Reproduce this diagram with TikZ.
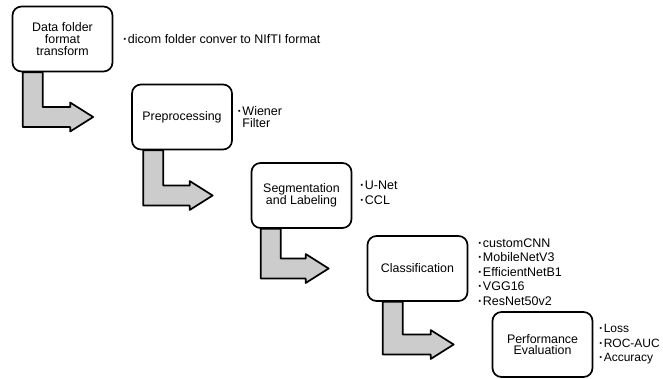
\documentclass[tikz,border=0pt]{standalone}
\usepackage{fontspec}
\setmainfont{Liberation Sans}
\usetikzlibrary{positioning,calc}

\newcommand{\bul}{\textbf{·}\hspace{0.6pt}}

\begin{document}
\begin{tikzpicture}[
        x=1pt, y=-1pt,
        line width=1.7pt,
        stage/.style={draw, fill=white, rounded corners=9pt, minimum width=100pt,
                      minimum height=65pt, align=center, inner sep=2pt,
                      font=\fontsize{12.4}{11.6}\selectfont},
        note/.style={anchor=west, align=left, inner sep=0pt,
                     font=\fontsize{12.5}{14.6}\selectfont},
        turn/.style={draw, fill=black!20, line join=round}
        ]
        \useasboundingbox (0,0) rectangle (663,378);

        \node[stage] (data) at (62.5,39) {Data folder\\format\\transform};
        \node[stage] (pre) at (182,117) {Preprocessing};
        \node[stage] (seg) at (301.5,195.5) {Segmentation\\and Labeling};
        \node[stage] (cls) at (417.5,268.5) {Classification};
        \node[stage] (perf) at (542.5,344.5) {Performance\\Evaluation};

        \node[note, right=9pt of data] (dataN) {\bul dicom folder conver to NIfTI format};
        \node[note, right=4pt of pre, font=\fontsize{12.5}{12.7}\selectfont] (preN) {\bul Wiener\\\phantom{\bul}Filter};
        \node[note, right=7pt of seg, yshift=3pt] (segN) {\bul U-Net\\\bul CCL};
        \node[note, right=9pt of cls, yshift=-3.5pt] (clsN) {\bul customCNN\\\bul MobileNetV3\\\bul EfficientNetB1\\\bul VGG16\\\bul ResNet50v2};
        \node[note, right=5pt of perf, font=\fontsize{12}{14.6}\selectfont] (perfN) {\bul Loss\\\bul ROC-AUC\\\bul Accuracy};

        % L-shaped block arrows between the stages
        \foreach \a/\b/\d in {data/pre/11pt, pre/seg/12pt, seg/cls/10pt, cls/perf/16pt}
            \draw[turn] let \p1=(\a.south west), \p2=(\b.west) in
                (\x1+\d,\y1) -- (\x1+\d+20pt,\y1) -- (\x1+\d+20pt,\y2+10pt)
                -- (\x2-61pt,\y2+10pt) -- (\x2-61pt,\y2+14.5pt) -- (\x2-38pt,\y2)
                -- (\x2-61pt,\y2-14.5pt) -- (\x2-61pt,\y2-10pt) -- (\x1+\d,\y2-10pt) -- cycle;
\end{tikzpicture}
\end{document}
